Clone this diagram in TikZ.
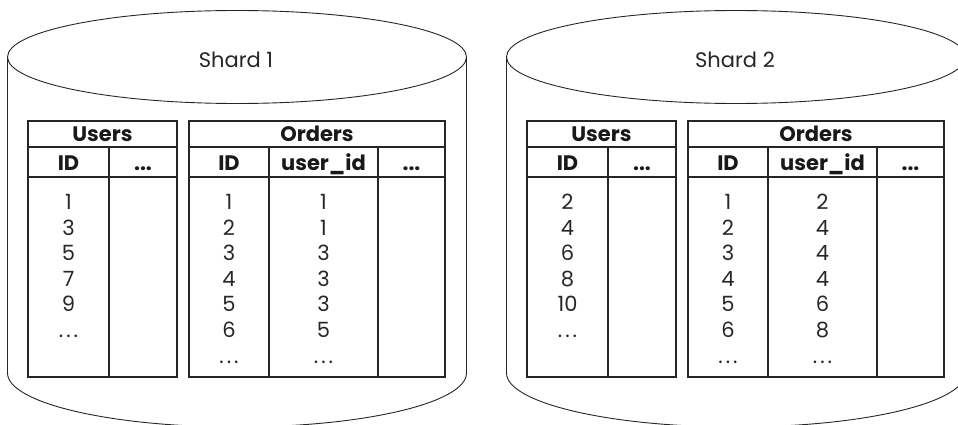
\documentclass[tikz,border=0pt]{standalone}
\usepackage{fontspec}
\setmainfont{Poppins}
\newcommand\thindots{.\kern3pt.\kern3pt.}
\newcommand\drawshard[6]{%
\begin{scope}[xshift=#1pt]
  \draw[cyl] (237,57) ellipse [x radius=229.5pt, y radius=46.5pt];
  \draw[cyl] (7.5,57) -- (7.5,373)
     arc[start angle=180, end angle=360, x radius=229.5pt, y radius=54pt] -- (466.5,57);
  \node[lbl] (#2-title) at (236,68) {#3};
  % Users table
  \draw[tbl] (28,121) rectangle (177,377);
  \draw[tbl] (28,147) -- (177,147);
  \draw[tbl] (28,177) -- (177,177);
  \draw[tbl] (109,147) -- (109,377);
  \node[hdr] (#2-users) at (102.5,142) {Users};
  \node[hdr] (#2-users-id) at (68.5,170) {ID};
  \node[hdr] (#2-users-more) at (143,170) {...};
  \foreach \v [count=\i] in {#4}
    \node[lbl] (#2-u-\i) at (68.5,{209.5+25.6*(\i-1)}) {\v};
  % Orders table
  \draw[tbl] (189,121) rectangle (445,377);
  \draw[tbl] (189,147) -- (445,147);
  \draw[tbl] (189,177) -- (445,177);
  \draw[tbl] (269,147) -- (269,377);
  \draw[tbl] (378,147) -- (378,377);
  \node[hdr] (#2-orders) at (317,142) {Orders};
  \node[hdr] (#2-orders-id) at (229,170) {ID};
  \node[hdr] (#2-orders-uid) at (323.5,170) {user\_id};
  \node[hdr] (#2-orders-more) at (411.5,170) {...};
  \foreach \v [count=\i] in {#5}
    \node[lbl] (#2-o-\i) at (229,{209.5+25.6*(\i-1)}) {\v};
  \foreach \v [count=\i] in {#6}
    \node[lbl] (#2-ou-\i) at (323.5,{209.5+25.6*(\i-1)}) {\v};
\end{scope}}
\begin{document}
\begin{tikzpicture}[x=1pt,y=-1pt,
  cyl/.style={line width=0.9pt, black!85},
  tbl/.style={line width=1.5pt, black!85},
  lbl/.style={anchor=base, inner sep=0pt, text=black!85, font=\fontsize{21}{21}\selectfont},
  hdr/.style={anchor=base, inner sep=0pt, text=black!90, font=\fontsize{21}{21}\selectfont\bfseries},
]
\useasboundingbox (0,0) rectangle (958,425);
\clip (0,0) rectangle (958,425);
\drawshard{0}{s1}{Shard 1}{1,3,5,7,9,\thindots}{1,2,3,4,5,6,\thindots}{1,1,3,3,3,5,\thindots}
\drawshard{499}{s2}{Shard 2}{2,4,6,8,10,\thindots}{1,2,3,4,5,6,\thindots}{2,4,4,4,6,8,\thindots}
\end{tikzpicture}
\end{document}
